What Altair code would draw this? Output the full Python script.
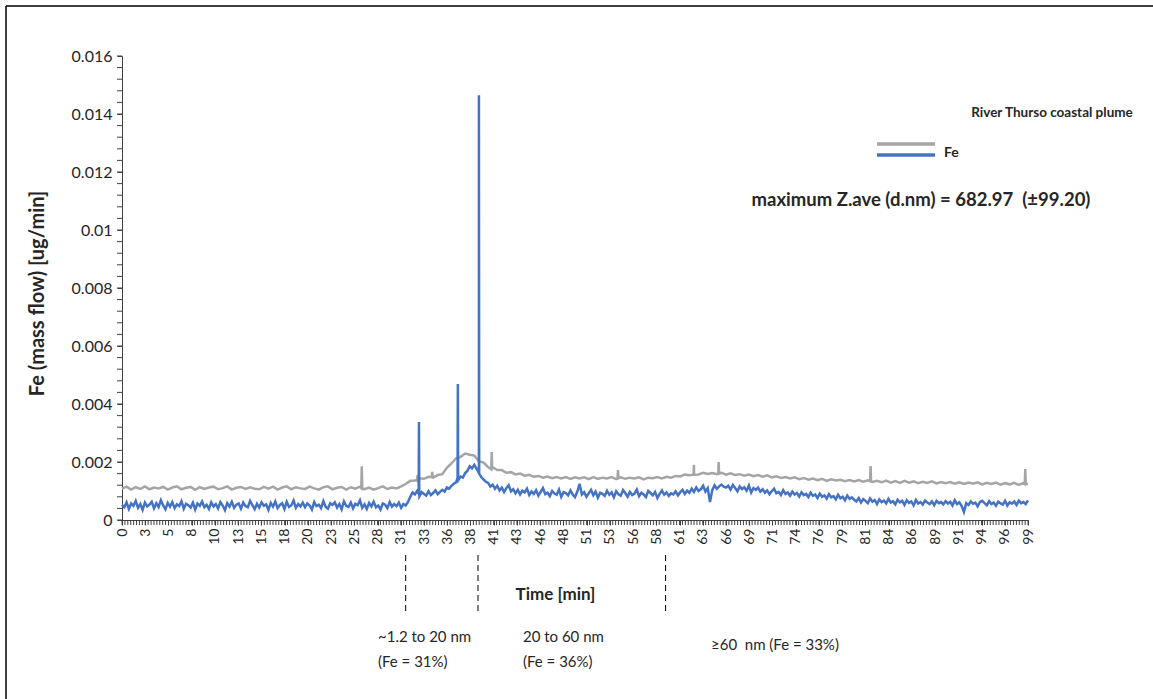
import altair as alt
import pandas as pd

# ---------------- data ----------------
x_tick_labels = ['0', '3', '5', '8', '10', '13', '15', '18', '20', '23', '25', '28',
                 '31', '33', '36', '38', '41', '43', '46', '48', '51', '53', '56', '58',
                 '61', '63', '66', '69', '71', '74', '76', '79', '81', '84', '86', '89',
                 '91', '94', '96', '99']

# gray trace: every 0.5 min, 0 .. 99 min  (ug/min)
gray_time = [i * 0.5 for i in range(199)]
gray_vals = [
    0.00108, 0.00115, 0.00105, 0.00113, 0.00107, 0.00116, 0.00106, 0.00112, 0.00109, 0.00114,
    0.00105, 0.00112, 0.00116, 0.00106, 0.00111, 0.00114, 0.00104, 0.00113, 0.00107, 0.00112,
    0.00115, 0.00106, 0.00110, 0.00116, 0.00105, 0.00111, 0.00114, 0.00107, 0.00113, 0.00108,
    0.00106, 0.00114, 0.00108, 0.00115, 0.00105, 0.00112, 0.00116, 0.00106, 0.00113, 0.00109,
    0.00107, 0.00115, 0.00109, 0.00105, 0.00113, 0.00116, 0.00106, 0.00111, 0.00114, 0.00105,
    0.00113, 0.00108, 0.00115, 0.00106, 0.00112, 0.00105, 0.00110, 0.00116, 0.00107, 0.00112,
    0.00109, 0.00116, 0.00124, 0.00135, 0.00136, 0.00144, 0.00142, 0.00149, 0.00146, 0.00155,
    0.00158, 0.00180, 0.00195, 0.00213, 0.00218, 0.00229, 0.00225, 0.00222, 0.00203, 0.00198,
    0.00183, 0.00182, 0.00172, 0.00172, 0.00163, 0.00165, 0.00157, 0.00160, 0.00153, 0.00156,
    0.00149, 0.00152, 0.00146, 0.00150, 0.00144, 0.00148, 0.00143, 0.00148, 0.00142, 0.00147,
    0.00143, 0.00147, 0.00141, 0.00148, 0.00142, 0.00146, 0.00143, 0.00148, 0.00141, 0.00147,
    0.00142, 0.00146, 0.00143, 0.00147, 0.00140, 0.00146, 0.00144, 0.00148, 0.00143, 0.00149,
    0.00146, 0.00152, 0.00150, 0.00157, 0.00154, 0.00160, 0.00157, 0.00163, 0.00159, 0.00162,
    0.00158, 0.00163, 0.00156, 0.00161, 0.00155, 0.00158, 0.00153, 0.00157, 0.00151, 0.00155,
    0.00149, 0.00154, 0.00147, 0.00151, 0.00145, 0.00148, 0.00143, 0.00147, 0.00141, 0.00145,
    0.00139, 0.00143, 0.00137, 0.00142, 0.00135, 0.00140, 0.00136, 0.00139, 0.00134, 0.00138,
    0.00133, 0.00138, 0.00132, 0.00137, 0.00131, 0.00135, 0.00130, 0.00136, 0.00129, 0.00134,
    0.00128, 0.00135, 0.00129, 0.00133, 0.00127, 0.00132, 0.00128, 0.00133, 0.00126, 0.00131,
    0.00127, 0.00131, 0.00125, 0.00130, 0.00124, 0.00129, 0.00125, 0.00130, 0.00123, 0.00128,
    0.00124, 0.00129, 0.00122, 0.00127, 0.00123, 0.00128, 0.00121, 0.00127, 0.00124,
]

# blue trace: every 0.25 min, 0 .. 99 min, in units of 1e-5 ug/min
blue_time = [i * 0.25 for i in range(397)]
blue_e5 = [
    # 0-10 min
    52, 44, 61, 38, 57, 49, 66, 42, 55, 35, 60, 47, 53, 63, 40, 58, 45, 68, 50, 37,
    59, 46, 62, 41, 54, 48, 65, 39, 56, 51, 43, 60, 36, 57, 49, 64, 44, 52, 38, 61,
    # 10-20 min
    47, 55, 40, 62, 50, 34, 58, 46, 63, 42, 53, 57, 39, 60, 48, 44, 66, 51, 37, 56,
    43, 61, 49, 54, 35, 59, 46, 64, 41, 52, 58, 38, 63, 45, 50, 67, 42, 55, 47, 60,
    # 20-30 min
    44, 57, 50, 36, 62, 48, 53, 41, 65, 46, 39, 58, 52, 61, 43, 55, 37, 64, 49, 45,
    60, 40, 56, 51, 68, 42, 54, 38, 59, 47, 63, 44, 50, 36, 57, 53, 41, 62, 46, 55,
    # 30-40 min
    48, 60, 42, 55, 50, 62, 80, 95, 88, 100, 82, 96, 90, 84, 99, 86, 93, 102, 89, 97,
    104, 98, 112, 108, 118, 125, 130, 138, 150, 146, 162, 170, 185, 178, 190, 176, 160, 148, 140, 132,
    # 40-50 min
    128, 115, 122, 108, 118, 102, 112, 96, 110, 120, 99, 106, 92, 104, 88, 101, 95, 108, 86, 98,
    90, 103, 84, 97, 110, 89, 94, 82, 100, 91, 87, 105, 80, 96, 93, 85, 102, 88, 79, 97,
    # 50-60 min
    125, 88, 96, 80, 92, 104, 85, 98, 77, 94, 90, 83, 101, 87, 95, 78, 99, 89, 84, 103,
    92, 80, 97, 86, 91, 105, 82, 94, 88, 79, 100, 93, 85, 97, 76, 90, 102, 87, 95, 83,
    # 60-70 min
    92, 88, 99, 85, 96, 104, 90, 101, 94, 108, 97, 112, 100, 106, 118, 98, 110, 62, 103, 120,
    108, 116, 122, 115, 112, 118, 105, 121, 110, 99, 116, 107, 113, 101, 119, 95, 110, 104, 112, 98,
    # 70-80 min
    106, 94, 102, 89, 99, 108, 92, 97, 86, 103, 90, 95, 84, 98, 88, 93, 81, 96, 86, 90,
    79, 94, 83, 88, 76, 91, 80, 85, 74, 89, 78, 82, 71, 87, 75, 80, 68, 84, 73, 78,
    # 80-90 min
    70, 64, 76, 60, 72, 66, 58, 74, 63, 69, 55, 71, 62, 67, 57, 73, 60, 65, 54, 70,
    61, 66, 52, 68, 59, 64, 50, 69, 57, 62, 53, 67, 60, 55, 64, 51, 66, 58, 62, 54,
    # 90-99 min
    65, 57, 63, 50, 68, 55, 61, 48, 28, 58, 52, 64, 56, 60, 47, 62, 66, 58, 51, 65,
    55, 60, 49, 63, 57, 53, 66, 50, 61, 56, 64, 52, 67, 58, 62, 55, 68,
]

gray_spike_t = [26.15, 26.20, 26.25, 32.25, 32.30, 32.35, 33.85, 33.90, 33.95,
                40.35, 40.40, 40.45, 54.15, 54.20, 54.25, 62.45, 62.50, 62.55,
                65.15, 65.20, 65.25, 81.75, 81.80, 81.85, 98.65, 98.70, 98.75]
gray_spike_v = [0.00110, 0.00185, 0.00110, 0.00138, 0.00155, 0.00138, 0.00148, 0.00166, 0.00148,
                0.00175, 0.00234, 0.00175, 0.00144, 0.00172, 0.00144, 0.00156, 0.00190, 0.00156,
                0.00160, 0.00200, 0.00160, 0.00134, 0.00186, 0.00134, 0.00124, 0.00176, 0.00124]

blue_spike_t = [32.42, 32.45, 32.48, 36.67, 36.70, 36.73, 38.97, 39.00, 39.03]
blue_spike_v = [0.00090, 0.00338, 0.00090, 0.00145, 0.00469, 0.00145, 0.00165, 0.01465, 0.00160]

fraction_boundaries = [31.0, 38.9, 59.4]

# ---------------- tables ----------------
gray_df = pd.DataFrame({"t": gray_time + gray_spike_t,
                        "v": gray_vals + gray_spike_v}).sort_values("t")
blue_df = pd.DataFrame({"t": blue_time + blue_spike_t,
                        "v": [b / 1e5 for b in blue_e5] + blue_spike_v}).sort_values("t")
bound_df = pd.DataFrame({"t": fraction_boundaries})
one = pd.DataFrame({"a": [0]})

W, H = 906, 464
FONT = "Lato"
TXT = "#262626"
AX = "#404040"

x_max = 99.0
n_major = len(x_tick_labels) - 1
n_minor = 8
major_x = [i * x_max / n_major for i in range(n_major + 1)]
minor_x = pd.DataFrame({"t": [j * x_max / (n_major * n_minor) for j in range(n_major * n_minor + 1)]})
lab_arr = "[" + ",".join("'" + s + "'" for s in x_tick_labels) + "]"
x_label_expr = f"{lab_arr}[round(datum.value*{n_major}/{x_max})]"

major_y = [k * 0.002 for k in range(9)]
minor_y = pd.DataFrame({"v": [k * 0.0004 for k in range(41)]})

x_enc = alt.X(
    "t:Q",
    scale=alt.Scale(domain=[0, x_max], nice=False, zero=False),
    axis=alt.Axis(
        values=major_x, labelExpr=x_label_expr, labelAngle=270, labelAlign="right",
        labelBaseline="middle", labelOverlap=False, labelFontSize=14, labelFont=FONT,
        labelColor=TXT, labelPadding=3, tickSize=5, tickColor=AX, domainColor=AX,
        grid=False, title="Time [min]", titleFont=FONT, titleFontSize=17, titleFontWeight="bold",
        titleColor=TXT, titleX=433, titleY=74, titleAlign="center", titleBaseline="middle",
        labelFlush=False,
    ),
)
y_enc = alt.Y(
    "v:Q",
    scale=alt.Scale(domain=[0, 0.016], nice=False),
    axis=alt.Axis(
        values=major_y, format=".3~f", labelFontSize=16, labelFont=FONT,
        labelColor=TXT, labelPadding=5, tickSize=5, tickColor=AX, domainColor=AX,
        grid=False, title="Fe (mass flow) [ug/min]", titleFont=FONT, titleFontSize=20,
        titleFontWeight="bold", titleColor=TXT, titleX=-85, titleY=237, titleAngle=270,
        titleAlign="center", titleBaseline="middle", labelOverlap=False, labelFlush=False,
    ),
)

gray_line = alt.Chart(gray_df).mark_line(color="#A5A5A5", strokeWidth=2.5).encode(x=x_enc, y=y_enc)
blue_line = alt.Chart(blue_df).mark_line(color="#4472C4", strokeWidth=2.5).encode(x=x_enc, y=y_enc)

x_minor_ticks = alt.Chart(minor_x).mark_rule(color=AX, strokeWidth=1).encode(
    x=x_enc, y=alt.value(H), y2=alt.value(H + 5))
y_minor_ticks = alt.Chart(minor_y).mark_rule(color=AX, strokeWidth=1).encode(
    y=y_enc, x=alt.value(0), x2=alt.value(-5))

bounds = alt.Chart(bound_df).mark_rule(color="#000000", strokeWidth=1, strokeDash=[6, 4]).encode(
    x=x_enc, y=alt.value(499), y2=alt.value(559)
)


def txt(s, x, y, size=15, bold=False, align="left"):
    return alt.Chart(one).mark_text(
        font=FONT, fontSize=size, fontWeight="bold" if bold else "normal", color=TXT,
        align=align, baseline="middle",
    ).encode(x=alt.value(x), y=alt.value(y), text=alt.value(s))


texts = [
    txt("~1.2 to 20 nm", 256, 581),
    txt("(Fe = 31%)", 256, 606),
    txt("20 to 60 nm", 401, 581),
    txt("(Fe = 36%)", 401, 606),
    txt("\u226560\u00a0 nm (Fe = 33%)", 589, 589),
    txt("River Thurso coastal plume", 930, 57, size=13.5, bold=True, align="center"),
    txt("Fe", 822, 97, size=14, bold=True),
    txt("maximum Z.ave (d.nm) = 682.97\u00a0 (\u00b199.20)", 799, 144, size=18.5, bold=True, align="center"),
]

leg_gray = alt.Chart(one).mark_rule(color="#A5A5A5", strokeWidth=3.5).encode(
    x=alt.value(755), x2=alt.value(813), y=alt.value(88))
leg_blue = alt.Chart(one).mark_rule(color="#4472C4", strokeWidth=3.5).encode(
    x=alt.value(755), x2=alt.value(813), y=alt.value(99))

border_top = alt.Chart(one).mark_rule(color="#000000", strokeWidth=1.5).encode(
    x=alt.value(-116), x2=alt.value(1040), y=alt.value(-50))
border_left = alt.Chart(one).mark_rule(color="#000000", strokeWidth=1.5).encode(
    x=alt.value(-116), y=alt.value(-50), y2=alt.value(650))

chart = alt.layer(
    gray_line, blue_line, x_minor_ticks, y_minor_ticks, bounds, *texts,
    leg_gray, leg_blue, border_top, border_left
).properties(
    width=W, height=H,
    autosize=alt.AutoSizeParams(type="none"),
    padding={"left": 122, "top": 56, "right": 125, "bottom": 179},
    background="white",
).configure_view(stroke=None).configure_axis(labelOverlap=False)

chart.save("out.html", embed_options={"renderer": "svg", "actions": False})
